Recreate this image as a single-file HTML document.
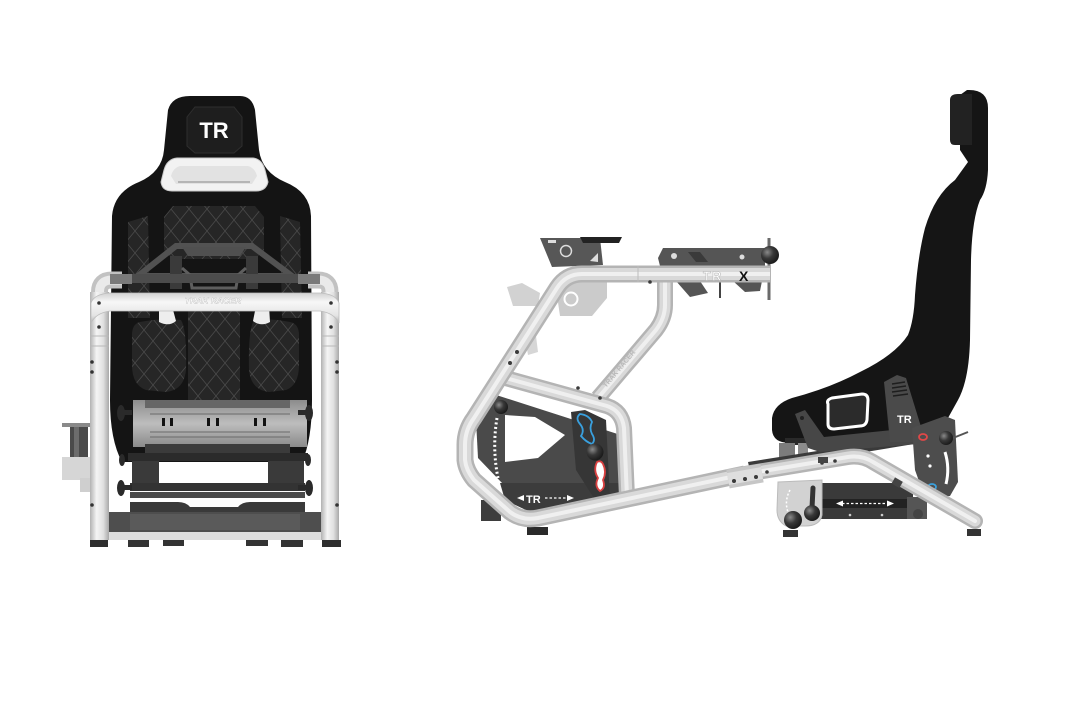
<!DOCTYPE html>
<html><head><meta charset="utf-8">
<style>html,body{margin:0;padding:0;background:#fff;width:1080px;height:720px;overflow:hidden}svg{display:block}</style>
</head>
<body>
<svg width="1080" height="720" viewBox="0 0 1080 720" xmlns="http://www.w3.org/2000/svg" font-family="'Liberation Sans', sans-serif">
<defs>
<linearGradient id="tv" x1="0" x2="1" y1="0" y2="0"><stop offset="0" stop-color="#b2b2b2"/><stop offset=".35" stop-color="#f5f5f5"/><stop offset=".7" stop-color="#e0e0e0"/><stop offset="1" stop-color="#a8a8a8"/></linearGradient>
<linearGradient id="th" x1="0" x2="0" y1="0" y2="1"><stop offset="0" stop-color="#d2d2d2"/><stop offset=".3" stop-color="#f7f7f7"/><stop offset=".75" stop-color="#e4e4e4"/><stop offset="1" stop-color="#b2b2b2"/></linearGradient>
<linearGradient id="gp" x1="0" x2="0" y1="0" y2="1"><stop offset="0" stop-color="#8c8c8c"/><stop offset=".5" stop-color="#bdbdbd"/><stop offset="1" stop-color="#8a8a8a"/></linearGradient>
<pattern id="dm" width="18" height="22" patternUnits="userSpaceOnUse"><rect width="18" height="22" fill="#262626"/><path d="M0 0L18 22M18 0L0 22" stroke="#4a4a4a" stroke-width=".8"/></pattern>
<radialGradient id="ball" cx=".35" cy=".35" r=".75"><stop offset="0" stop-color="#8a8a8a"/><stop offset=".45" stop-color="#383838"/><stop offset="1" stop-color="#141414"/></radialGradient>
<path id="rt1" d="M770 274 L582 274 Q566 274 557 288 L474 418 Q465 430 465 445 L465 460 Q466 470 474 480 L510 512 Q522 521 538 518 L745 474"/>
<path id="rt2" d="M745 474 L848 457 Q862 455 873 462 L975 521"/>
<path id="rt3" d="M502 377 L607 406 Q622 411 624 428 L627 497"/>
<path id="rt4" d="M665 278 L665 305 Q665 318 656 330 L598 398"/>
</defs>
<rect width="1080" height="720" fill="#fff"/>

<!-- ================= LEFT (FRONT VIEW) ================= -->
<path d="M190 96 L240 96 Q252 96 255 110 L259 150 Q262 172 285 182 Q310 192 311 216 L312 400 Q312 440 302 462 L122 462 Q110 440 110 400 L112 216 Q114 192 139 182 Q162 172 164 150 L168 110 Q172 96 190 96 Z" fill="#141414"/>
<polygon points="195,107 234,107 242,117 242,146 234,153 195,153 187,146 187,117" fill="#1e1e1e" stroke="#2e2e2e" stroke-width="1"/>
<text x="214" y="138" font-size="22" font-weight="bold" fill="#fff" text-anchor="middle">TR</text>
<path d="M177 158 L253 158 Q262 159 265 170 L268 182 Q266 191 256 191 L172 191 Q162 191 161 182 L164 170 Q167 159 177 158 Z" fill="#f2f2f2" stroke="#c8c8c8" stroke-width="1"/>
<path d="M180 166 L248 166 Q255 168 257 176 L252 184 L176 184 L171 176 Q173 168 180 166 Z" fill="#e2e2e2"/>
<path d="M178 182 L250 182" stroke="#9a9a9a" stroke-width="1.2"/>
<polygon points="173,206 255,206 264,217 264,250 255,259 173,259 164,250 164,217" fill="url(#dm)"/>
<polygon points="128,222 148,216 150,318 128,318" fill="url(#dm)"/>
<polygon points="280,216 300,222 302,318 282,318" fill="url(#dm)"/>
<path d="M140 322 Q160 318 181 320 Q187 330 186 370 Q184 390 166 392 L146 390 Q132 385 132 365 L132 335 Q132 324 140 322 Z" fill="url(#dm)"/>
<path d="M290 322 Q270 318 254 320 Q248 330 249 370 Q251 390 269 392 L286 390 Q299 385 299 365 L299 335 Q299 324 290 322 Z" fill="url(#dm)"/>
<rect x="188" y="310" width="52" height="92" fill="url(#dm)"/>
<path d="M159 306 L172 306 L176 321 Q169 327 159 322 Z" fill="#eee"/>
<path d="M256 306 L269 306 L270 322 Q261 327 253 321 Z" fill="#eee"/>

<!-- wheel mount -->
<polygon points="176,246 252,246 292,276 138,276" fill="none" stroke="#525252" stroke-width="6"/>
<polygon points="182,247 246,247 240,256 188,256" fill="#505050"/>
<rect x="170" y="256" width="12" height="33" fill="#3a3a3a"/>
<rect x="246" y="256" width="12" height="33" fill="#3a3a3a"/>
<path d="M182 268 L190 275 L192 288 L236 288 L238 275 L246 268" stroke="#5e5e5e" stroke-width="3" fill="none"/>
<rect x="112" y="274" width="206" height="9" fill="#4c4c4c"/>

<!-- mechanism -->
<rect x="133" y="400" width="174" height="47" fill="url(#gp)"/>
<rect x="145" y="400" width="145" height="8" fill="#666"/>
<g fill="#111">
<rect x="162" y="418" width="3" height="8"/><rect x="170" y="418" width="3" height="8"/>
<rect x="207" y="418" width="3" height="8"/><rect x="216" y="418" width="3" height="8"/>
<rect x="254" y="418" width="3" height="8"/><rect x="263" y="418" width="3" height="8"/>
</g>
<g stroke="#6a6a6a" stroke-width="1">
<path d="M150 414 L290 414 M150 432 L290 432 M150 437 L290 437"/>
</g>
<rect x="145" y="444" width="145" height="9" fill="#3b3b3b"/>
<rect x="128" y="453" width="180" height="8" fill="#2b2b2b"/>
<rect x="132" y="461" width="27" height="22" fill="#3a3a3a"/>
<rect x="268" y="461" width="36" height="22" fill="#3a3a3a"/>
<rect x="159" y="466" width="109" height="14" fill="#fff"/>
<rect x="130" y="483" width="175" height="8" fill="#333"/>
<rect x="130" y="492" width="175" height="6" fill="#4a4a4a"/>
<path d="M130 502 L178 502 Q186 502 190 507 L238 507 Q242 502 250 502 L305 502 L305 512 L130 512 Z" fill="#3a3a3a"/>
<rect x="104" y="512" width="222" height="20" fill="#4e4e4e"/>
<rect x="130" y="514" width="170" height="16" fill="#5a5a5a"/>
<rect x="104" y="532" width="222" height="8" fill="#dedede"/>
<g fill="#333">
<rect x="128" y="540" width="21" height="7"/><rect x="163" y="540" width="21" height="6"/>
<rect x="246" y="540" width="22" height="6"/><rect x="281" y="540" width="22" height="7"/>
</g>
<g fill="#2a2a2a">
<rect x="118" y="410" width="14" height="5"/><ellipse cx="121" cy="413" rx="4" ry="8"/>
<rect x="298" y="410" width="14" height="5"/><ellipse cx="309" cy="413" rx="4" ry="8"/>
<rect x="118" y="485" width="14" height="5"/><ellipse cx="121" cy="488" rx="4" ry="8"/>
<rect x="298" y="485" width="14" height="5"/><ellipse cx="309" cy="488" rx="4" ry="8"/>
<ellipse cx="122" cy="460" rx="3" ry="6"/><ellipse cx="308" cy="460" rx="3" ry="6"/>
</g>

<!-- left shifter mount -->
<rect x="62" y="423" width="28" height="4" fill="#8a8a8a"/>
<rect x="70" y="427" width="18" height="40" fill="#4a4a4a"/>
<rect x="74" y="427" width="5" height="40" fill="#6c6c6c"/>
<rect x="62" y="457" width="30" height="23" fill="#d6d6d6"/>
<rect x="80" y="478" width="12" height="14" fill="#cfcfcf"/>

<!-- frame -->
<path d="M99.5 305 L99.5 292 Q99.5 280 112 280 L122 280" stroke="#c2c2c2" stroke-width="17" fill="none"/>
<path d="M99.5 305 L99.5 292 Q99.5 280 112 280 L122 280" stroke="#eaeaea" stroke-width="9" fill="none"/>
<path d="M330 305 L330 292 Q330 280 318 280 L308 280" stroke="#c2c2c2" stroke-width="17" fill="none"/>
<path d="M330 305 L330 292 Q330 280 318 280 L308 280" stroke="#eaeaea" stroke-width="9" fill="none"/>
<rect x="110" y="274" width="22" height="10" fill="#7a7a7a"/>
<rect x="298" y="274" width="22" height="10" fill="#7a7a7a"/>
<rect x="90" y="292" width="19" height="248" fill="url(#tv)"/>
<rect x="321" y="292" width="18" height="248" fill="url(#tv)"/>
<path d="M91 303 Q94 294 110 293 L320 293 Q336 294 339 303 L339 323 Q334 313 320 311 L110 311 Q96 313 91 323 Z" fill="url(#th)" stroke="#bdbdbd" stroke-width=".8"/>
<text x="213" y="303.5" font-size="8.5" font-weight="bold" font-style="italic" fill="#fff" stroke="#b5b5b5" stroke-width=".35" text-anchor="middle">TRAK RACER</text>
<g stroke="#b8b8b8" stroke-width="1">
<path d="M90 336 L109 336 M90 346 L109 346 M321 336 L339 336 M321 346 L339 346"/>
</g>
<g fill="#333">
<circle cx="99" cy="303" r="1.8"/><circle cx="331" cy="303" r="1.8"/>
<circle cx="99" cy="327" r="1.8"/><circle cx="331" cy="327" r="1.8"/>
<circle cx="92" cy="362" r="1.8"/><circle cx="92" cy="372" r="1.8"/>
<circle cx="337" cy="362" r="1.8"/><circle cx="337" cy="372" r="1.8"/>
<circle cx="92" cy="505" r="1.8"/><circle cx="337" cy="505" r="1.8"/>
</g>
<g fill="#2e2e2e">
<path d="M90 540 L108 540 L108 547 L90 547 Z"/><path d="M322 540 L341 540 L341 547 L322 547 Z"/>
</g>

<!-- ================= RIGHT (SIDE VIEW) ================= -->
<path d="M967 90 Q988 89 988 108 L988 170 Q987 190 980 200 Q972 220 971 260 L970 340 Q969 380 958 400 L948 418 L940 430 L790 443 Q773 443 772 430 L772 418 Q774 404 792 398 Q830 388 860 372 Q895 355 908 335 Q914 320 915 295 Q918 255 925 228 Q935 195 955 180 L968 162 L960 150 L960 95 Z" fill="#151515"/>
<path d="M950 100 Q950 94 958 94 L972 94 L972 145 L955 145 Q950 145 950 140 Z" fill="#222"/>
<rect x="785" y="438" width="120" height="7" fill="#2a2a2a"/>

<!-- seat mechanism -->
<rect x="779" y="443" width="16" height="28" fill="#7c7c7c"/>
<rect x="798" y="443" width="10" height="20" fill="#8c8c8c"/>
<polygon points="748,462 912,436 914,444 750,471" fill="#3a3a3a"/>
<polygon points="795,414 805,410 824,437 912,428 918,444 820,452 808,448" fill="#474747"/>
<circle cx="802" cy="418" r="2" fill="#222"/>
<polygon points="884,382 897,375 906,378 922,430 920,442 890,442" fill="#4a4a4a"/>
<g stroke="#1e1e1e" stroke-width="1.6"><path d="M892 384 L905 382 M892 388 L906 386 M892 392 L907 390 M893 396 L908 394"/></g>
<text x="897" y="423" font-size="11" font-weight="bold" fill="#fff">TR</text>
<path d="M828 404 Q826 400 832 398 L862 394 Q868 394 868 400 L867 420 Q866 426 860 426 L834 429 Q828 429 828 424 Z" fill="#2b2b2b" stroke="#fff" stroke-width="3"/>
<polygon points="912,428 945,416 955,420 958,482 950,496 925,498 915,470" fill="#4d4d4d"/>
<ellipse cx="923" cy="437" rx="4" ry="3" fill="none" stroke="#e04848" stroke-width="1.8"/>
<ellipse cx="932" cy="487" rx="4" ry="3" fill="none" stroke="#3aa0dc" stroke-width="1.8"/>
<circle cx="928" cy="456" r="1.6" fill="#fff"/><circle cx="930" cy="466" r="1.6" fill="#fff"/>
<path d="M945 452 Q950 468 946 484" stroke="#fff" stroke-width="3" fill="none"/>
<path d="M953 438 L968 432" stroke="#555" stroke-width="2"/>
<circle cx="946" cy="438" r="7" fill="url(#ball)"/>
<rect x="820" y="483" width="93" height="36" fill="#3a3a3a"/>
<rect x="820" y="499" width="93" height="9" fill="#222"/>
<path d="M842 503.5 L888 503.5" stroke="#fff" stroke-width="1.3" stroke-dasharray="2.5 2"/>
<polygon points="836,503.5 843,500.5 843,506.5" fill="#fff"/>
<polygon points="894,503.5 887,500.5 887,506.5" fill="#fff"/>
<circle cx="850" cy="515" r="1.3" fill="#ccc"/><circle cx="882" cy="515" r="1.3" fill="#ccc"/>
<path d="M778 482 L822 480 L822 515 Q820 526 805 526 L786 526 Q777 521 777 510 Z" fill="#d2d2d2" stroke="#bbb" stroke-width="1"/>
<path d="M790 490 Q782 505 792 520" stroke="#fff" stroke-width="1.5" stroke-dasharray="2 2" fill="none"/>
<path d="M813 488 L812 508" stroke="#333" stroke-width="5" stroke-linecap="round"/>
<rect x="907" y="497" width="20" height="22" fill="#555"/>
<circle cx="918" cy="514" r="5" fill="#444"/>
<rect x="783" y="530" width="15" height="7" fill="#333"/>
<rect x="967" y="529" width="14" height="7" fill="#333"/>

<!-- pedal area -->
<rect x="481" y="500" width="20" height="21" fill="#3d3d3d"/>
<rect x="527" y="527" width="21" height="8" fill="#2a2a2a"/>
<polygon points="490,393 630,438 634,506 530,512 478,458 476,420" fill="#4a4a4a"/>
<polygon points="500,483 634,483 634,506 530,512 505,500" fill="#3c3c3c"/>
<polygon points="505,415 535,417 565,435 538,458 505,462" fill="#fff"/>
<path d="M497 418 Q492 448 498 478" stroke="#fff" stroke-width="3" stroke-dasharray="2 2.5" fill="none"/>
<circle cx="501" cy="407" r="7" fill="url(#ball)"/>
<polygon points="517,498 524,495 524,501" fill="#fff"/>
<text x="526" y="503" font-size="11" font-weight="bold" fill="#fff">TR</text>
<path d="M545 498 L568 498" stroke="#fff" stroke-width="1.2" stroke-dasharray="2.5 2"/>
<polygon points="574,498 567,495 567,501" fill="#fff"/>
<polygon points="571,412 585,410 606,420 610,500 597,503 576,470" fill="#363636"/>
<path d="M580 414 Q575 418 580 424 Q585 430 581 436 Q586 442 592 444 Q596 440 592 434 Q589 428 592 422 Q589 415 580 414 Z" fill="none" stroke="#39a0de" stroke-width="1.8"/>
<path d="M597 462 Q593 470 598 478 Q594 486 600 491 Q606 488 603 480 Q607 472 603 464 Q601 460 597 462 Z" fill="#fff" stroke="#d94040" stroke-width="1.8"/>
<circle cx="595" cy="452" r="8.5" fill="url(#ball)"/>

<!-- parts behind tubes -->
<polygon points="555,282 607,282 607,298 592,316 560,316" fill="#cbcbcb"/>
<circle cx="571" cy="299" r="6.5" fill="none" stroke="#fff" stroke-width="2"/>
<polygon points="507,287 522,283 540,293 538,306 513,306" fill="#d2d2d2"/>
<polygon points="524,333 536,336 538,352 528,355" fill="#d6d6d6"/>
<polygon points="540,238 600,238 603,265 552,267" fill="#575757"/>
<polygon points="580,237 622,237 619,243 583,243" fill="#222"/>
<circle cx="566" cy="251" r="5.5" fill="none" stroke="#ddd" stroke-width="1.5"/>
<rect x="548" y="240" width="8" height="3" fill="#ddd"/>
<polygon points="590,261 598,253 598,262" fill="#ddd"/>
<polygon points="663,248 765,248 765,266 660,266 658,258" fill="#555"/>
<circle cx="674" cy="256" r="3" fill="#ddd"/><circle cx="742" cy="257" r="2.5" fill="#ddd"/>
<polygon points="688,252 700,252 708,262 696,262" fill="#3a3a3a"/>
<polygon points="676,281 700,281 708,293 690,297" fill="#555"/>
<polygon points="733,281 762,281 760,291 745,292" fill="#555"/>
<path d="M720 281 L720 298" stroke="#444" stroke-width="2"/>
<path d="M769 238 L769 300" stroke="#6a6a6a" stroke-width="3"/>

<!-- tubes -->
<g fill="none">
<use href="#rt4" stroke="#b4b4b4" stroke-width="16"/><use href="#rt4" stroke="#d9d9d9" stroke-width="11"/><use href="#rt4" stroke="#efefef" stroke-width="4"/>
<use href="#rt3" stroke="#b4b4b4" stroke-width="16"/><use href="#rt3" stroke="#d9d9d9" stroke-width="11"/><use href="#rt3" stroke="#efefef" stroke-width="4"/>
<use href="#rt1" stroke="#b4b4b4" stroke-width="17"/><use href="#rt1" stroke="#d9d9d9" stroke-width="12"/><use href="#rt1" stroke="#f0f0f0" stroke-width="4"/>
<use href="#rt2" stroke="#b4b4b4" stroke-width="16" stroke-linecap="round"/><use href="#rt2" stroke="#d9d9d9" stroke-width="11" stroke-linecap="round"/><use href="#rt2" stroke="#f0f0f0" stroke-width="4" stroke-linecap="round"/>
<path d="M728 479 L762 473" stroke="#c6c6c6" stroke-width="19"/>
<path d="M728 479 L762 473" stroke="#dedede" stroke-width="12"/>
</g>
<path d="M638 266 L638 282" stroke="#bdbdbd" stroke-width="1"/>
<text x="703" y="280.5" font-size="12.5" font-weight="bold" fill="#fff" stroke="#b0b0b0" stroke-width=".5" letter-spacing="1.5">TR</text>
<text x="739" y="281" font-size="14" font-weight="bold" fill="#111">X</text>
<text x="0" y="0" font-size="7" font-weight="bold" fill="#b8b8b8" transform="translate(606,388) rotate(-50)">TRAK RACER</text>
<circle cx="770" cy="255" r="9" fill="url(#ball)"/>
<g fill="#3a3a3a">
<circle cx="517" cy="352" r="2"/><circle cx="510" cy="363" r="2"/><circle cx="650" cy="282" r="1.8"/>
<circle cx="600" cy="398" r="1.8"/><circle cx="578" cy="388" r="1.8"/>
<circle cx="734" cy="481" r="2"/><circle cx="745" cy="479" r="2"/><circle cx="756" cy="477" r="2"/><circle cx="767" cy="472" r="1.8"/>
<circle cx="822" cy="463" r="1.8"/><circle cx="835" cy="461" r="1.8"/>
</g>
<rect x="818" y="457" width="10" height="6" fill="#444"/>
<rect x="893" y="479" width="9" height="7" fill="#444" transform="rotate(30 897 482)"/>
<circle cx="793" cy="520" r="9" fill="url(#ball)"/>
<circle cx="812" cy="513" r="8" fill="url(#ball)"/>
</svg>
</body></html>
